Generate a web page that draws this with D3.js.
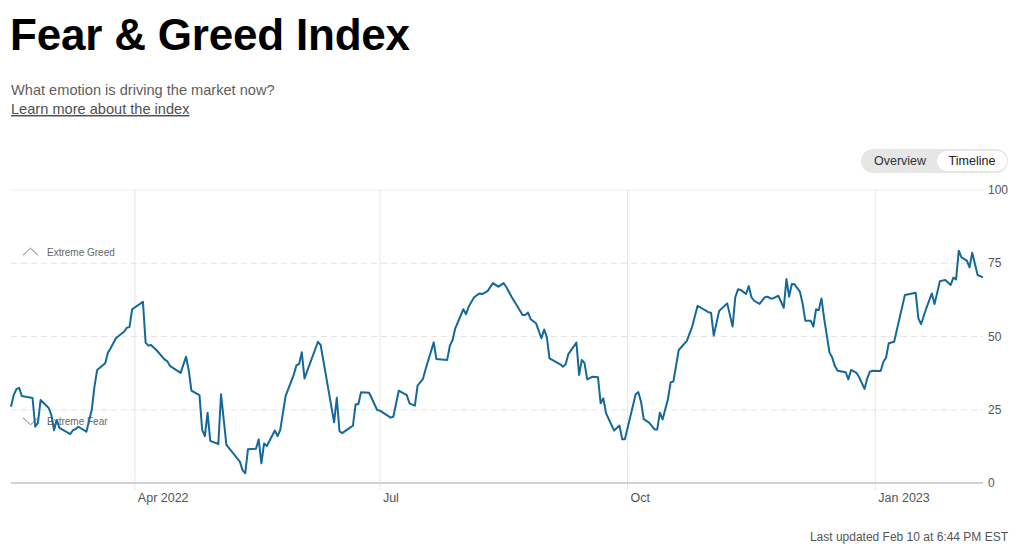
<!DOCTYPE html>
<html>
<head>
<meta charset="utf-8">
<script src="https://cdn.jsdelivr.net/npm/d3@7"></script>
<style>
  html, body { margin: 0; padding: 0; background: #fff; }
  svg { display: block; font-family: "Liberation Sans", Arial, Helvetica, sans-serif; }
</style>
</head>
<body>
<svg id="chart" width="1018" height="550"></svg>
<script>
// ---- data ----
const dates = [
  "2022-02-14","2022-02-15","2022-02-16","2022-02-17","2022-02-18","2022-02-22","2022-02-23","2022-02-24","2022-02-25","2022-02-28",
  "2022-03-01","2022-03-02","2022-03-03","2022-03-04","2022-03-08","2022-03-09","2022-03-10","2022-03-11","2022-03-14","2022-03-16",
  "2022-03-17","2022-03-18","2022-03-21","2022-03-22","2022-03-23","2022-03-25","2022-03-28","2022-03-29","2022-03-30","2022-03-31",
  "2022-04-04","2022-04-05","2022-04-06","2022-04-07","2022-04-09","2022-04-12","2022-04-13","2022-04-14","2022-04-18","2022-04-20",
  "2022-04-21","2022-04-22","2022-04-25","2022-04-26","2022-04-27","2022-04-28","2022-04-29","2022-05-02","2022-05-03","2022-05-05",
  "2022-05-10","2022-05-11","2022-05-12","2022-05-13","2022-05-16","2022-05-17","2022-05-18","2022-05-19","2022-05-20","2022-05-23",
  "2022-05-24","2022-05-25","2022-05-27","2022-05-30","2022-05-31","2022-06-01","2022-06-02","2022-06-03","2022-06-08","2022-06-09",
  "2022-06-14","2022-06-15","2022-06-16","2022-06-17","2022-06-21","2022-06-22","2022-06-23","2022-06-24","2022-06-27","2022-06-30",
  "2022-07-01","2022-07-05","2022-07-06","2022-07-08","2022-07-11","2022-07-12","2022-07-14","2022-07-15","2022-07-17","2022-07-18",
  "2022-07-21","2022-07-22","2022-07-26","2022-07-27","2022-07-28","2022-07-29","2022-08-01","2022-08-02","2022-08-03","2022-08-05",
  "2022-08-07","2022-08-08","2022-08-10","2022-08-12","2022-08-14","2022-08-16","2022-08-17","2022-08-19","2022-08-21","2022-08-23",
  "2022-08-24","2022-08-25","2022-08-26","2022-08-28","2022-08-30","2022-08-31","2022-09-01","2022-09-02","2022-09-06","2022-09-07",
  "2022-09-08","2022-09-09","2022-09-12","2022-09-13","2022-09-14","2022-09-15","2022-09-16","2022-09-18","2022-09-20","2022-09-21",
  "2022-09-22","2022-09-23","2022-09-26","2022-09-28","2022-09-29","2022-09-30","2022-10-02","2022-10-04","2022-10-05","2022-10-06",
  "2022-10-07","2022-10-09","2022-10-11","2022-10-12","2022-10-13","2022-10-14","2022-10-16","2022-10-17","2022-10-18","2022-10-20",
  "2022-10-23","2022-10-25","2022-10-27","2022-10-31","2022-11-01","2022-11-02","2022-11-04","2022-11-07","2022-11-09","2022-11-10",
  "2022-11-11","2022-11-12","2022-11-14","2022-11-15","2022-11-16","2022-11-17","2022-11-19","2022-11-21","2022-11-22","2022-11-23",
  "2022-11-24","2022-11-26","2022-11-28","2022-11-29","2022-11-30","2022-12-01","2022-12-02","2022-12-04","2022-12-05","2022-12-06",
  "2022-12-08","2022-12-09","2022-12-10","2022-12-11","2022-12-12","2022-12-13","2022-12-15","2022-12-16","2022-12-17","2022-12-18",
  "2022-12-21","2022-12-22","2022-12-23","2022-12-25","2022-12-26","2022-12-28","2022-12-29","2022-12-30","2022-12-31","2023-01-03",
  "2023-01-04","2023-01-05","2023-01-06","2023-01-08","2023-01-12","2023-01-16","2023-01-17","2023-01-18","2023-01-20","2023-01-22",
  "2023-01-23","2023-01-25","2023-01-27","2023-01-29","2023-01-30","2023-01-31","2023-02-01","2023-02-02","2023-02-04","2023-02-05",
  "2023-02-06","2023-02-08","2023-02-10"
];
const values = [
  26, 30, 32, 32.5, 29.7, 29, 19.2, 20.5, 28.3, 25.6,
  23.2, 18, 21.5, 18.8, 16.7, 18, 18.4, 19.2, 17.5, 25,
  32.9, 38.6, 40.9, 44.5, 46, 49.5, 51.6, 53, 53.2, 59.3,
  61.8, 47.9, 46.9, 47.1, 45.4, 42.2, 41.6, 40, 37.6, 43.1,
  38.6, 31.5, 30, 18.1, 16, 24, 14.4, 13.3, 30.3, 13,
  7.3, 4.4, 3.3, 11.5, 11.7, 14.9, 6.7, 13.5, 12.6, 17.9,
  16, 18.1, 29.7, 36.9, 40.2, 40.6, 44.6, 35.7, 48.2, 47.1,
  20.7, 29.1, 17.7, 17, 19.6, 26.9, 26.9, 31, 30.8, 24.9,
  24.7, 22.3, 22.6, 31.5, 30, 27.2, 26.4, 33.2, 35.5, 38.9,
  48, 42.3, 42, 46.9, 48.8, 52.8, 59.3, 57.6, 60.2, 63.4,
  64.7, 64.5, 65.5, 68.2, 67, 68.2, 66.8, 63.4, 60.4, 57.3,
  57.3, 58.2, 55.9, 54.5, 49.4, 52.4, 49.9, 42.5, 40.5, 39.7,
  40.5, 44, 47.9, 36.9, 42, 40.9, 35.4, 36.3, 36.1, 27.2,
  28.9, 23.8, 17.9, 19.6, 14.9, 14.9, 22.6, 30.3, 31, 27.7,
  21.8, 20.6, 18.3, 18.3, 24, 21.7, 28.7, 34.4, 34.6, 45.4,
  48.5, 53.4, 60.5, 58.3, 58.1, 50.3, 58.7, 61.3, 53.4, 63.4,
  66.1, 65.9, 64.5, 67.2, 63.4, 62.2, 61.1, 63.4, 63.6, 63,
  63, 63.9, 59.8, 69.6, 63.6, 67.9, 67.8, 65.3, 61.3, 55.4,
  55.4, 53.4, 59.3, 59, 63, 56.2, 44.5, 42.8, 39.9, 38.3,
  37.8, 35.4, 38.6, 37.6, 36.1, 32.1, 35.7, 38, 38.3, 38.2,
  41.4, 42.8, 47.7, 48.2, 64.2, 64.9, 56.2, 54.2, 59.8, 64.7,
  61.1, 68.9, 69.3, 67.6, 70.1, 69.5, 79.3, 77, 75.9, 73.6,
  78.6, 71, 70.2
];
const xTickDates = ["2022-04-01", "2022-07-01", "2022-10-01", "2023-01-01"];
const xTickLabels = ["Apr 2022", "Jul", "Oct", "Jan 2023"];
const yTicks = [0, 25, 50, 75, 100];
const zoneLabels = ["Extreme Greed", "Extreme Fear"];
const zoneValues = [75, 25];

// ---- drawing ----
const parse = d3.timeParse("%Y-%m-%d");
const data = dates.map((d, i) => ({ date: parse(d), value: values[i] }));

const svg = d3.select("#chart");
const plot = { left: 11, right: 983, top: 190, bottom: 483 };

const x = d3.scaleTime()
  .domain([parse("2022-02-14"), parse("2023-02-10")])
  .range([plot.left, plot.right]);
const y = d3.scaleLinear().domain([0, 100]).range([plot.bottom, plot.top]);

// Title & header
svg.append("text").attr("x", 10).attr("y", 50)
  .attr("font-size", 44).attr("font-weight", 700).attr("fill", "#000")
  .attr("letter-spacing", -0.2)
  .text("Fear & Greed Index");
svg.append("text").attr("x", 11).attr("y", 95)
  .attr("font-size", 14.6).attr("fill", "#5e5e5e")
  .text("What emotion is driving the market now?");
svg.append("text").attr("x", 11).attr("y", 114)
  .attr("font-size", 14.6).attr("fill", "#505050")
  .attr("text-decoration", "underline")
  .text("Learn more about the index");

// Toggle
const tg = svg.append("g");
tg.append("rect").attr("x", 861).attr("y", 149).attr("width", 147).attr("height", 24)
  .attr("rx", 12).attr("fill", "#e6e6e6");
tg.append("rect").attr("x", 937).attr("y", 151).attr("width", 70).attr("height", 20)
  .attr("rx", 10).attr("fill", "#fff");
tg.append("text").attr("x", 900).attr("y", 165).attr("text-anchor", "middle")
  .attr("font-size", 12.5).attr("fill", "#333").text("Overview");
tg.append("text").attr("x", 972).attr("y", 165).attr("text-anchor", "middle")
  .attr("font-size", 12.5).attr("fill", "#222").text("Timeline");

// Vertical grid lines
svg.append("g").selectAll("line").data(xTickDates).join("line")
  .attr("x1", d => x(parse(d))).attr("x2", d => x(parse(d)))
  .attr("y1", plot.top).attr("y2", plot.bottom + 7)
  .attr("stroke", "#e6e6e6").attr("stroke-width", 1);

// Horizontal grid lines
svg.append("g").selectAll("line").data(yTicks.filter(t => t > 0)).join("line")
  .attr("x1", plot.left).attr("x2", plot.right)
  .attr("y1", d => y(d)).attr("y2", d => y(d))
  .attr("stroke", d => d === 100 ? "#eeeeee" : "#e4e4e4")
  .attr("stroke-width", 1)
  .attr("stroke-dasharray", d => d === 100 ? null : "6,4");

// Baseline
svg.append("line").attr("x1", plot.left).attr("x2", plot.right)
  .attr("y1", y(0)).attr("y2", y(0))
  .attr("stroke", "#d2d2d2").attr("stroke-width", 2);

// Y labels
svg.append("g").selectAll("text").data(yTicks).join("text")
  .attr("x", 988).attr("y", d => y(d)).attr("dy", "0.35em")
  .attr("font-size", 12).attr("fill", "#555").text(d => d);

// X labels
svg.append("g").selectAll("text").data(xTickDates).join("text")
  .attr("x", d => x(parse(d)) + 3).attr("y", 502)
  .attr("font-size", 12.5).attr("fill", "#555")
  .text((d, i) => xTickLabels[i]);

// Zone labels with chevrons (greed above its line, fear below)
const zg = svg.append("g");
zoneValues.forEach((v, i) => {
  const up = i === 0;
  const cy = up ? y(v) - 11 : y(v) + 12;
  zg.append("path")
    .attr("d", up
      ? `M23,${cy + 3} L30.5,${cy - 4} L38,${cy + 3}`
      : `M23,${cy - 4} L30.5,${cy + 3} L38,${cy - 4}`)
    .attr("fill", "none").attr("stroke", "#777").attr("stroke-width", 1);
  zg.append("text").attr("x", 47).attr("y", cy).attr("dy", "0.35em")
    .attr("font-size", 10).attr("fill", "#666").text(zoneLabels[i]);
});

// Line
const line = d3.line().x(d => x(d.date)).y(d => y(d.value));
svg.append("path").datum(data)
  .attr("d", line)
  .attr("fill", "none").attr("stroke", "#14699a")
  .attr("stroke-width", 2).attr("stroke-linejoin", "round");

// Footer
svg.append("text").attr("x", 1008).attr("y", 541).attr("text-anchor", "end")
  .attr("font-size", 12).attr("fill", "#555")
  .text("Last updated Feb 10 at 6:44 PM EST");
</script>
</body>
</html>
